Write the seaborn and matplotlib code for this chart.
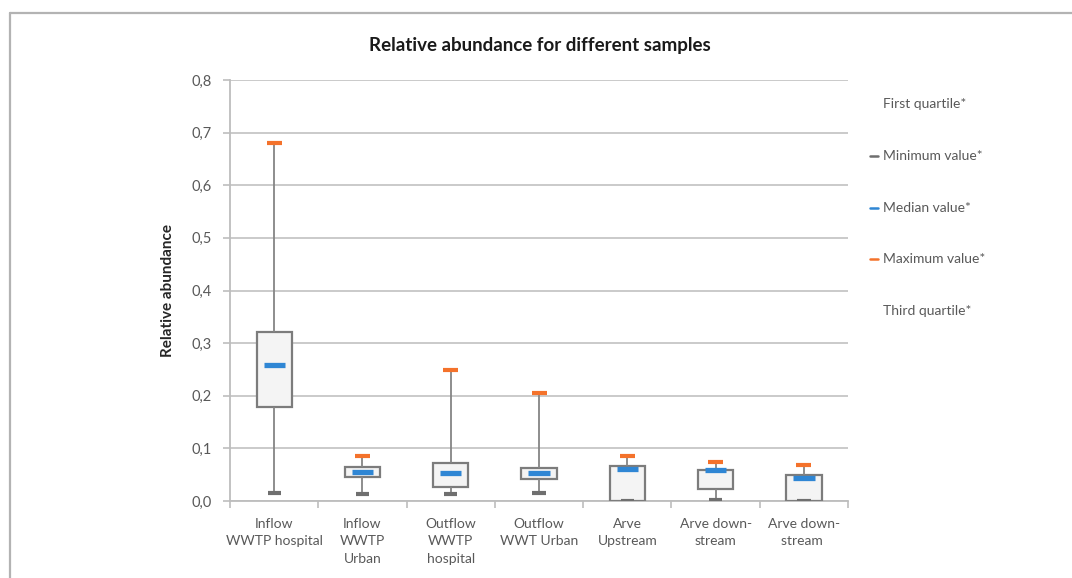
import numpy as np
import pandas as pd
import matplotlib
matplotlib.use("Agg")
import matplotlib.pyplot as plt
from matplotlib.lines import Line2D
from matplotlib.ticker import FuncFormatter, FixedLocator
import seaborn as sns

# Sample groups and their five-number summaries
samples = [
    "Inflow\nWWTP hospital",
    "Inflow\nWWTP\nUrban",
    "Outflow\nWWTP\nhospital",
    "Outflow\nWWT Urban",
    "Arve\nUpstream",
    "Arve down-\nstream",
    "Arve down-\nstream ",
]
minimum = [0.015, 0.013, 0.014, 0.015, 0.000, 0.001, 0.000]
first_quartile = [0.178, 0.046, 0.027, 0.042, 0.000, 0.022, 0.000]
median = [0.258, 0.055, 0.053, 0.053, 0.061, 0.058, 0.044]
third_quartile = [0.321, 0.065, 0.072, 0.063, 0.066, 0.059, 0.050]
maximum = [0.680, 0.085, 0.249, 0.205, 0.085, 0.074, 0.068]

legend_items = ["First quartile*", "Minimum value*", "Median value*",
                "Maximum value*", "Third quartile*"]

GRAY_TEXT = "#595959"
BLUE = "#2f86d4"
ORANGE = "#f4722b"
DARK = "#6f6f6f"

# Five values per sample: with linear percentiles the quartiles are exactly
# the 2nd, 3rd and 4th values, and whiskers at (0, 100) reach min and max.
rows = []
for name, a, b, c, d, e in zip(samples, minimum, first_quartile, median,
                               third_quartile, maximum):
    for v in (a, b, c, d, e):
        rows.append({"sample": name, "value": v})
df = pd.DataFrame(rows)

sns.set_theme(style="white")
plt.rcParams["font.family"] = ["Lato", "DejaVu Sans"]

fig = plt.figure(figsize=(10.72, 5.78), dpi=100)
ax = fig.add_axes([0.2146, 0.1332, 0.5765, 0.7284])

sns.boxplot(
    data=df, x="sample", y="value", order=samples, ax=ax,
    whis=(0, 100), width=0.4, showcaps=False, showfliers=False,
    color="#f4f4f4", linecolor="#7c7c7c", linewidth=1.6,
    medianprops={"visible": False},
    whiskerprops={"color": "#858585", "linewidth": 1.3},
    zorder=3,
)

pos = np.arange(len(samples))
ax.hlines(minimum, pos - 0.075, pos + 0.075, color=DARK, lw=3.0, zorder=4)
ax.hlines(maximum, pos - 0.085, pos + 0.085, color=ORANGE, lw=3.0, zorder=4)
ax.hlines(median, pos - 0.12, pos + 0.12, color=BLUE, lw=3.8, zorder=5)

ax.set_ylim(0, 0.8)
ax.set_xlim(-0.5, len(samples) - 0.5)
ax.set_yticks(np.arange(0, 0.81, 0.1))
ax.yaxis.set_major_formatter(FuncFormatter(lambda v, _: f"{v:.1f}".replace(".", ",")))
ax.grid(axis="y", color="#c6c6c6", linewidth=1.3, zorder=0)
ax.set_axisbelow(True)

for side in ("top", "right"):
    ax.spines[side].set_visible(False)
for side in ("left", "bottom"):
    ax.spines[side].set_color("#bdbdbd")
    ax.spines[side].set_linewidth(1.3)

ax.tick_params(axis="y", left=True, length=5, width=1.2, color="#bdbdbd",
               labelsize=10.5, labelcolor=GRAY_TEXT, pad=8)
ax.tick_params(axis="x", which="major", length=0, labelsize=10,
               labelcolor=GRAY_TEXT, pad=12)
ax.xaxis.set_minor_locator(FixedLocator(np.arange(-0.5, len(samples), 1.0)))
ax.tick_params(axis="x", which="minor", bottom=True, length=5, width=1.2,
               color="#bdbdbd")
for lbl in ax.get_xticklabels():
    lbl.set_linespacing(1.55)

ax.set_xlabel("")
ax.set_ylabel("Relative abundance", fontsize=11, fontweight="bold",
              color="#262626", labelpad=12)

fig.text(0.504, 0.922, "Relative abundance for different samples",
         ha="center", va="center", fontsize=13.5, fontweight="bold",
         color="#1a1a1a")

# Side key: labels with short coloured dashes for the marked values
key_y = [104, 156, 208, 259, 311]
dash_colors = [None, DARK, BLUE, ORANGE, None]
for label, y, dc in zip(legend_items, key_y, dash_colors):
    yf = 1 - y / 578
    fig.text(883 / 1072, yf, label, ha="left", va="center", fontsize=10,
             color=GRAY_TEXT)
    if dc is not None:
        fig.add_artist(Line2D([870 / 1072, 878 / 1072], [yf, yf], color=dc,
                              lw=1.8, transform=fig.transFigure))

# Frame lines along the top and left edges
fig.add_artist(Line2D([10 / 1072, 1.0], [1 - 13 / 578, 1 - 13 / 578],
                      color="#b3b3b3", lw=1.6, transform=fig.transFigure))
fig.add_artist(Line2D([10 / 1072, 10 / 1072], [0.0, 1 - 13 / 578],
                      color="#b3b3b3", lw=1.6, transform=fig.transFigure))

fig.savefig("out.png", dpi=100, facecolor="white")
